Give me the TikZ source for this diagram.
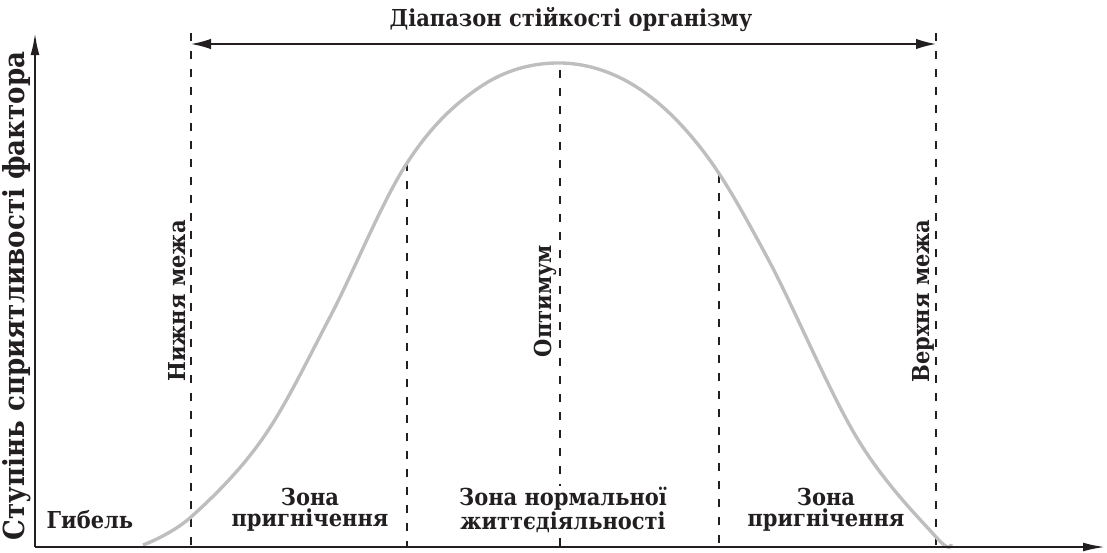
\documentclass[tikz,border=0pt]{standalone}
\usepackage{fontspec}
\setmainfont{DejaVu Serif Condensed}
\usetikzlibrary{arrows.meta}
\definecolor{ink}{RGB}{35,31,32}
\definecolor{curvegray}{RGB}{190,190,190}
\begin{document}
\begin{tikzpicture}[x=0.025cm, y=-0.025cm,
  txt/.style={font=\bfseries\fontsize{16.6}{15}\selectfont, text=ink, align=center, inner sep=1pt},
  zone/.style={txt},
  vert/.style={txt, rotate=90},
  axis/.style={draw=ink, line width=1.4pt, -{Latex[length=0.55cm, width=0.22cm]}},
  limit/.style={draw=ink, line width=1pt, dash pattern=on 0.2cm off 0.25cm},
  span/.style={draw=ink, line width=1.1pt, {Latex[length=0.5cm, width=0.26cm]}-{Latex[length=0.5cm, width=0.26cm]}},
  curve/.style={draw=curvegray, line width=2.4pt}
]
  \useasboundingbox (0,0) rectangle (1107,553);

  \coordinate (origin) at (35,547);
  \coordinate (ytip) at (35,33);
  \coordinate (xtip) at (1105,547);

  \coordinate (lowtop) at (191,33);  \coordinate (lowbot) at (191,547);
  \coordinate (zl1top) at (407,163); \coordinate (zl1bot) at (407,547);
  \coordinate (opttop) at (560,70);  \coordinate (optbot) at (560,547);
  \coordinate (zl2top) at (719,175); \coordinate (zl2bot) at (719,547);
  \coordinate (uptop) at (936,33);   \coordinate (upbot) at (936,547);

  \coordinate (spanL) at (191,44);
  \coordinate (spanR) at (936,44);

  \draw[limit] (lowtop) -- (lowbot);
  \draw[limit] (zl1top) -- (zl1bot);
  \draw[limit] (opttop) -- (optbot);
  \draw[limit] (zl2top) -- (zl2bot);
  \draw[limit] (uptop) -- (upbot);

  \draw[curve] plot[smooth, tension=0.6] coordinates {(143,545) (191,517) (263,438) (330,317) (407,163) (480,87) (555,63) (630,83) (700,147) (767,257) (857,438) (936,537) (951,544)};

  \draw[axis] (origin) -- (ytip);
  \draw[axis] (origin) -- (xtip);
  \draw[span] (spanL) -- (spanR);

  \node[txt] (spantext) at (571,20) {Діапазон стійкості організму};
  \node[vert, font=\bfseries\fontsize{20.6}{21}\selectfont] (ylabel) at (17,296) {Ступінь сприятливості фактора};
  \node[vert] (lower) at (177,301) {Нижня межа};
  \node[vert] (optimum) at (545,301) {Оптимум};
  \node[vert] (upper) at (923,301) {Верхня межа};

  \node[txt, anchor=base] (death) at (90,528) {Гибель};
  \node[zone] (zoneL) at (310,510) {Зона\\пригнічення};
  \node[zone, fill=white] (zoneN) at (563,510) {Зона нормальної\\життєдіяльності};
  \node[zone] (zoneR) at (826,510) {Зона\\пригнічення};
\end{tikzpicture}
\end{document}
